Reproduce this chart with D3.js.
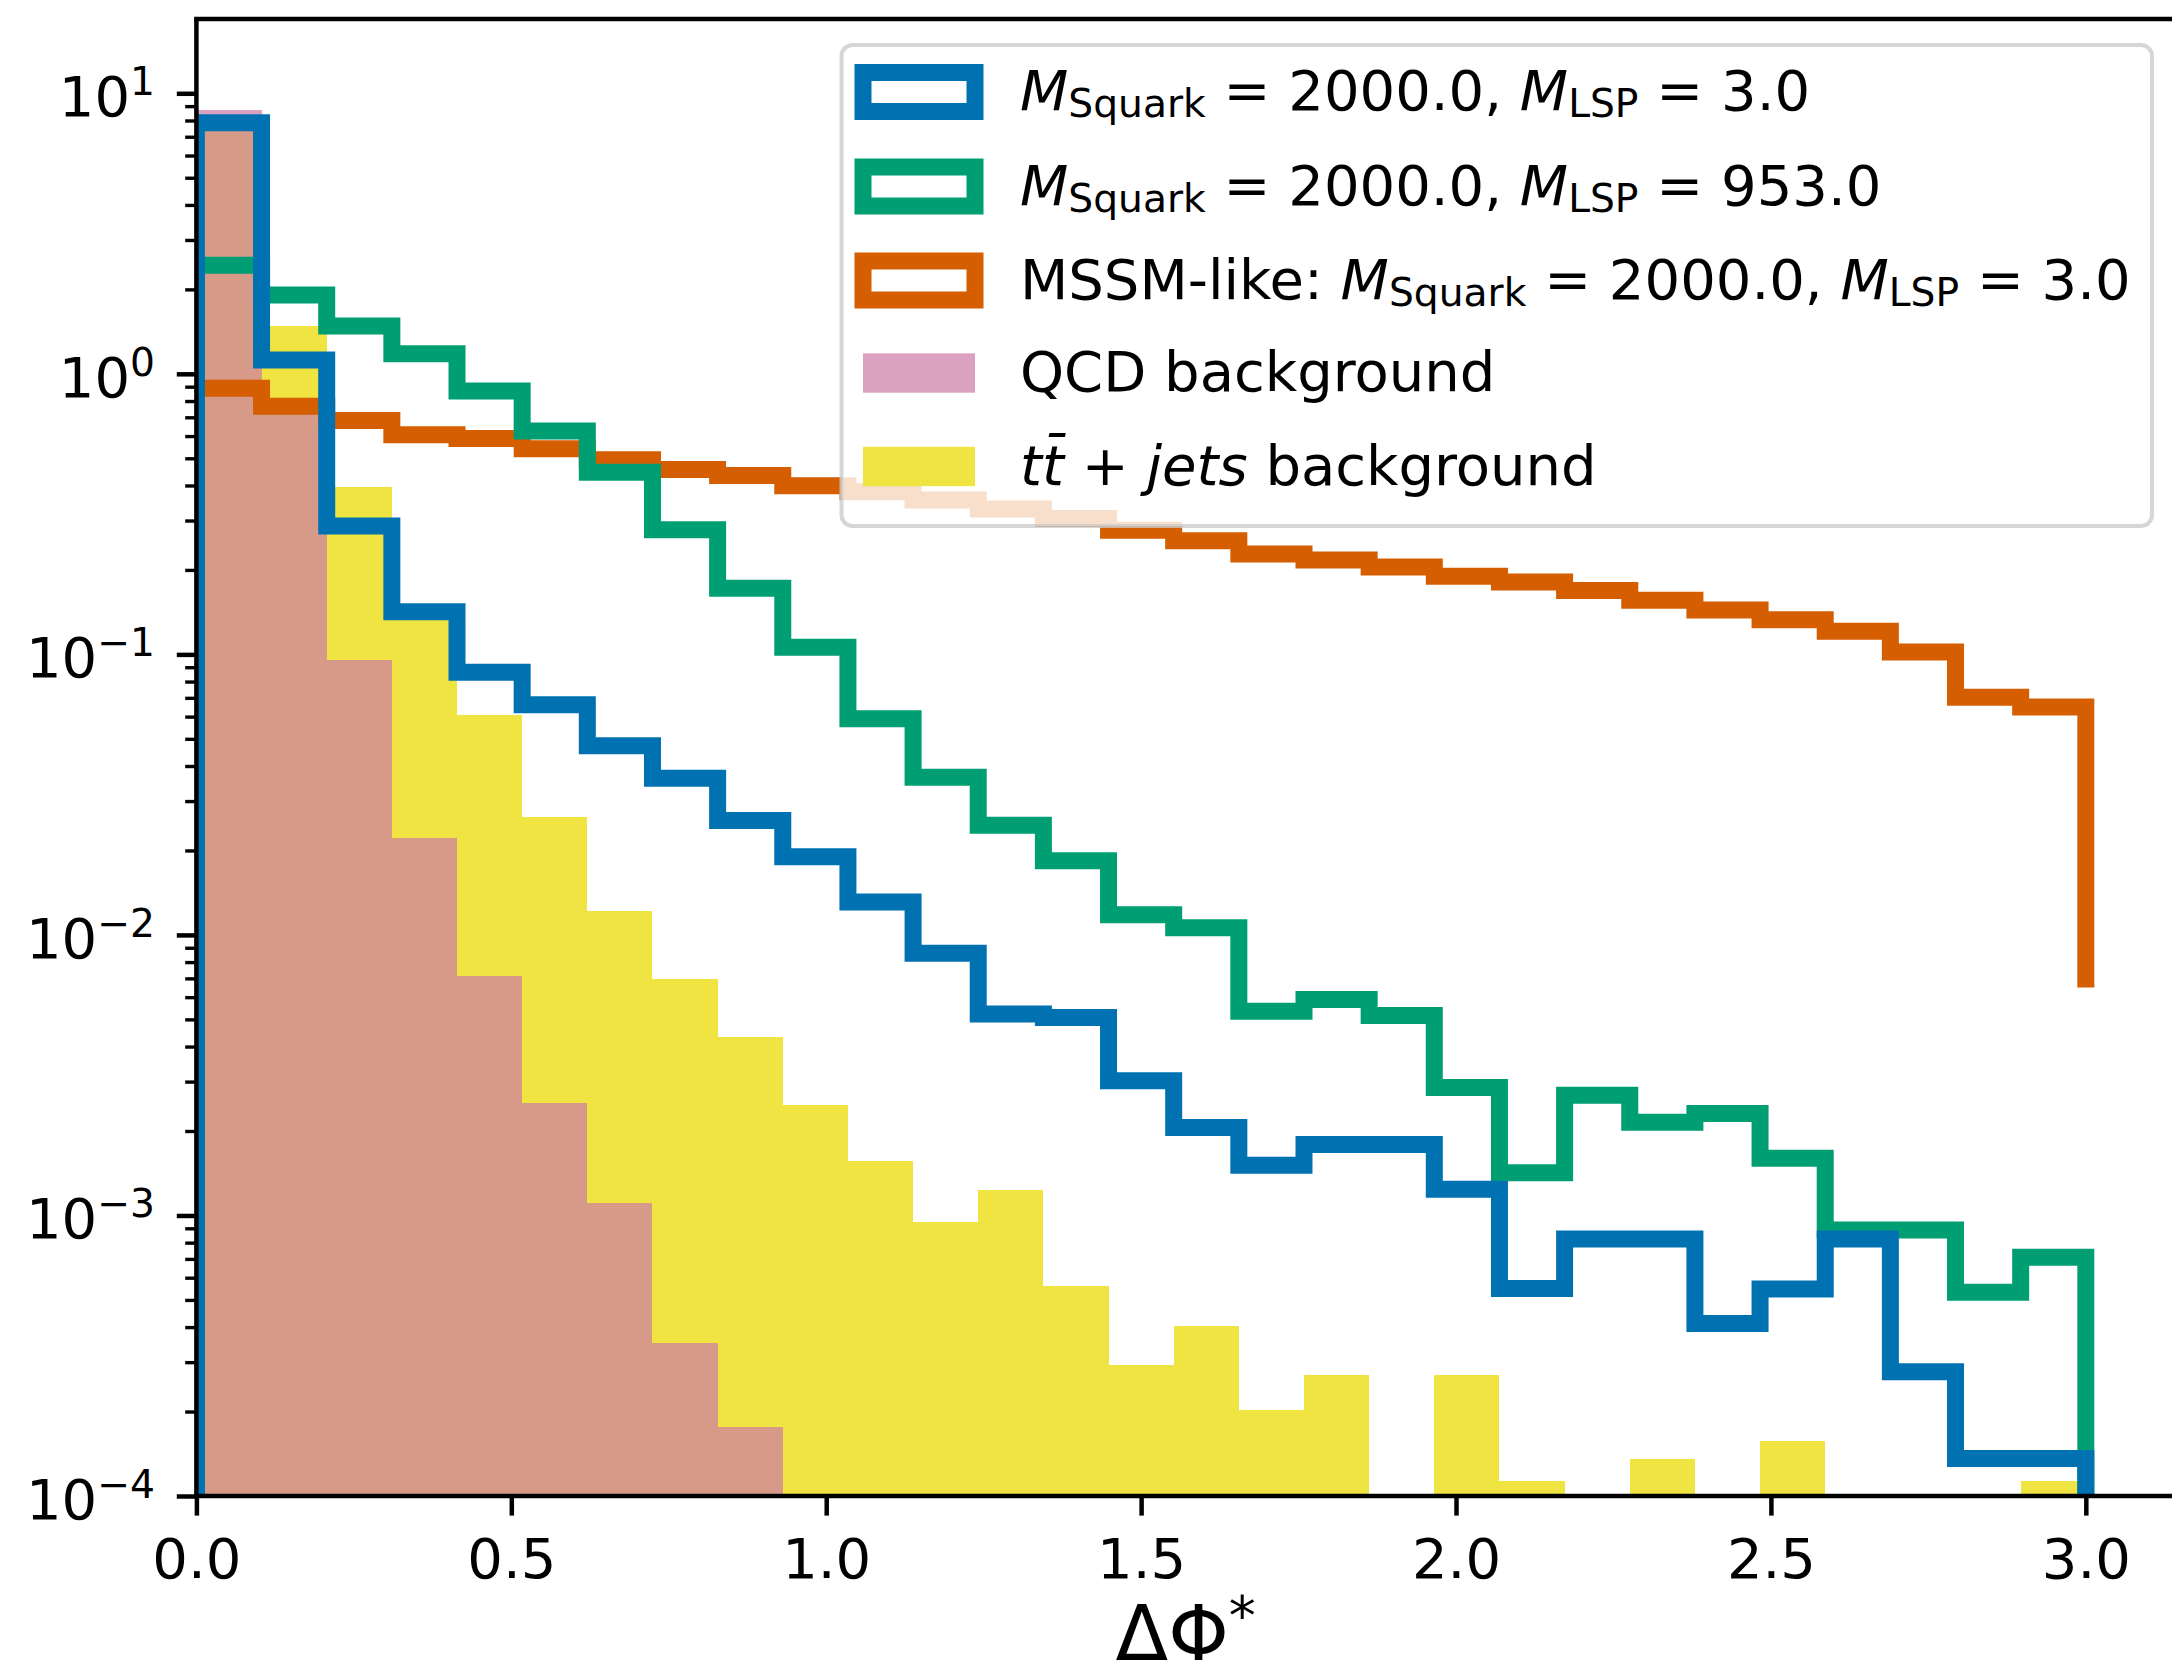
<!DOCTYPE html>
<html>
<head>
<meta charset="utf-8">
<script src="https://cdn.jsdelivr.net/npm/d3@7"></script>
<style>
  body { margin: 0; background: #fff; }
  svg { display: block; }
  text { font-family: "DejaVu Sans", sans-serif; fill: #000; }
</style>
</head>
<body>
<svg id="chart" width="2172" height="1679"></svg>
<script>
// Histogram bin edges in ΔΦ* (29 equal bins from 0 to 3.0)
const binEdges = [0, 0.10345, 0.2069, 0.31034, 0.41379, 0.51724, 0.62069, 0.72414, 0.82759, 0.93103,
  1.03448, 1.13793, 1.24138, 1.34483, 1.44828, 1.55172, 1.65517, 1.75862, 1.86207, 1.96552,
  2.06897, 2.17241, 2.27586, 2.37931, 2.48276, 2.58621, 2.68966, 2.7931, 2.89655, 3.0];

// Normalised bin contents (density)
const sigLsp3 = [7.85, 1.12, 0.287, 0.142, 0.0863, 0.0661, 0.0472, 0.0362, 0.0256, 0.019,
  0.0131, 0.0086, 0.00522, 0.00508, 0.00302, 0.00206, 0.00151, 0.00179, 0.00179, 0.00124,
  0.000549, 0.000824, 0.000824, 0.000412, 0.000547, 0.000824, 0.000277, 0.000136, 0.000136];
const sigLsp953 = [2.44, 1.91, 1.48, 1.18, 0.868, 0.625, 0.446, 0.278, 0.172, 0.106,
  0.059, 0.0365, 0.0246, 0.0184, 0.0118, 0.0106, 0.00535, 0.00589, 0.00516, 0.00286,
  0.00142, 0.00268, 0.00215, 0.00231, 0.0016, 0.000887, 0.000887, 0.000532, 0.00071];
const sigMssm = [0.889, 0.767, 0.682, 0.607, 0.588, 0.541, 0.494, 0.456, 0.434, 0.399,
  0.38, 0.355, 0.33, 0.305, 0.277, 0.254, 0.228, 0.217, 0.205, 0.19,
  0.181, 0.169, 0.156, 0.144, 0.133, 0.121, 0.102, 0.0703, 0.0649];
const qcdBkg = [8.7, 0.77, 0.0955, 0.0221, 0.00714, 0.00252, 0.00111, 0.000352, 0.000176, 0,
  0, 0, 0, 0, 0, 0, 0, 0, 0, 0,
  0, 0, 0, 0, 0, 0, 0, 0, 0];
const ttbarBkg = [7.55, 1.475, 0.396, 0.138, 0.0608, 0.0264, 0.0122, 0.00698, 0.00433, 0.00248,
  0.00156, 0.000945, 0.00123, 0.000562, 0.000294, 0.000404, 0.000202, 0.00027, 0, 0.00027,
  0.000113, 0, 0.000135, 0, 0.000157, 0, 0, 0, 0.000113];

const xTickValues = [0, 0.5, 1.0, 1.5, 2.0, 2.5, 3.0];
const xTickLabels = ["0.0", "0.5", "1.0", "1.5", "2.0", "2.5", "3.0"];
const yTickExponents = [-4, -3, -2, -1, 0, 1];

const colors = {
  lsp3: "#0072B2",
  lsp953: "#009E73",
  mssm: "#D55E00",
  qcd: "#CC79A7",
  ttbar: "#F0E442"
};

// ---- geometry ----
const plot = { left: 196.4, right: 2175, top: 19, bottom: 1496 };
const FS = 56;            // tick / legend font size
const LW = 17;            // step line width
const x = d3.scaleLinear().domain([0, Math.PI]).range([plot.left, plot.right]);
const y = d3.scaleLog().domain([1e-4, 18.4]).range([plot.bottom, plot.top]);

const svg = d3.select("#chart");
svg.append("rect").attr("width", 2172).attr("height", 1679).attr("fill", "#fff");

svg.append("defs").append("clipPath").attr("id", "plotClip")
  .append("rect")
  .attr("x", plot.left).attr("y", plot.top)
  .attr("width", plot.right - plot.left).attr("height", plot.bottom - plot.top);

const area = svg.append("g").attr("clip-path", "url(#plotClip)");

// ---- filled background histograms ----
function drawBars(values, fill, opacity) {
  const bins = values.map((v, i) => ({ v, x0: binEdges[i], x1: binEdges[i + 1] })).filter(d => d.v > 0);
  area.append("g").selectAll("rect").data(bins).join("rect")
    .attr("x", d => x(d.x0))
    .attr("width", d => x(d.x1) - x(d.x0))
    .attr("y", d => y(d.v))
    .attr("height", d => plot.bottom + 10 - y(d.v))
    .attr("fill", fill)
    .attr("fill-opacity", opacity)
    .attr("shape-rendering", "crispEdges");
}
drawBars(ttbarBkg, colors.ttbar, 1);
drawBars(qcdBkg, colors.qcd, 0.7);

// ---- step histograms (open outline, ends dropped to a tenth of the smallest bin) ----
const stepLine = d3.line().x(d => x(d[0])).y(d => y(d[1]));
function drawStep(values, color) {
  const floor = d3.min(values) / 10;
  const pts = [[binEdges[0], floor]];
  values.forEach((v, i) => { pts.push([binEdges[i], v], [binEdges[i + 1], v]); });
  pts.push([binEdges[binEdges.length - 1], floor]);
  area.append("path")
    .attr("d", stepLine(pts))
    .attr("fill", "none")
    .attr("stroke", color)
    .attr("stroke-width", LW)
    .attr("stroke-linejoin", "miter")
    .attr("stroke-linecap", "butt");
}
drawStep(sigMssm, colors.mssm);
drawStep(sigLsp953, colors.lsp953);
drawStep(sigLsp3, colors.lsp3);

// ---- axes ----
const xAxis = d3.axisBottom(x)
  .tickValues(xTickValues)
  .tickFormat((d, i) => xTickLabels[i])
  .tickSizeInner(19.6).tickSizeOuter(0).tickPadding(22.6);
const gx = svg.append("g").attr("transform", `translate(0,${plot.bottom})`).call(xAxis);
gx.select(".domain").remove();
gx.selectAll(".tick line").attr("stroke", "#000").attr("stroke-width", 4.5);
gx.selectAll(".tick text").attr("font-size", FS).attr("font-family", "DejaVu Sans").attr("fill", "#000");

const majorVals = yTickExponents.map(e => Math.pow(10, e));
const minorVals = [];
yTickExponents.forEach(e => {
  for (let m = 2; m <= 9; m++) {
    const v = m * Math.pow(10, e);
    if (v < y.domain()[1]) minorVals.push(v);
  }
});
const gyMinor = svg.append("g").attr("transform", `translate(${plot.left},0)`)
  .call(d3.axisLeft(y).tickValues(minorVals).tickFormat("").tickSizeInner(11.2).tickSizeOuter(0));
gyMinor.select(".domain").remove();
gyMinor.selectAll(".tick line").attr("stroke", "#000").attr("stroke-width", 3.4);

const gyMajor = svg.append("g").attr("transform", `translate(${plot.left},0)`)
  .call(d3.axisLeft(y).tickValues(majorVals).tickFormat("").tickSizeInner(19.6).tickSizeOuter(0));
gyMajor.select(".domain").remove();
gyMajor.selectAll(".tick line").attr("stroke", "#000").attr("stroke-width", 4.5);

// power-of-ten labels
const yLabels = svg.append("g");
yTickExponents.forEach(e => {
  const t = yLabels.append("text")
    .attr("x", 155)
    .attr("y", y(Math.pow(10, e)) + 23)
    .attr("text-anchor", "end")
    .attr("font-size", FS);
  t.append("tspan").text("10");
  t.append("tspan").attr("font-size", FS * 0.7).attr("dy", -21)
    .text(e < 0 ? "\u2212" + Math.abs(e) : String(e));
});

// spines
const spines = svg.append("g").attr("stroke", "#000").attr("stroke-width", 4.5).attr("fill", "none");
spines.append("line").attr("x1", plot.left).attr("x2", plot.left).attr("y1", plot.top).attr("y2", plot.bottom);
spines.append("line").attr("x1", plot.left - 2.25).attr("x2", plot.right).attr("y1", plot.bottom).attr("y2", plot.bottom);
spines.append("line").attr("x1", plot.left - 2.25).attr("x2", plot.right).attr("y1", plot.top).attr("y2", plot.top);
spines.append("line").attr("x1", plot.right).attr("x2", plot.right).attr("y1", plot.top).attr("y2", plot.bottom);

// x label
const xl = svg.append("text")
  .attr("x", (plot.left + plot.right) / 2)
  .attr("y", 1660)
  .attr("text-anchor", "middle")
  .attr("font-size", 77);
xl.append("tspan").text("\u0394\u03A6");
xl.append("tspan").attr("font-size", 77 * 0.7).attr("dy", -26).text("*");

// ---- legend ----
const legendEntries = [
  { kind: "outline", color: colors.lsp3,
    label: [{ t: "M", it: true }, { t: "Squark", sub: true }, { t: " = 2000.0, " }, { t: "M", it: true }, { t: "LSP", sub: true }, { t: " = 3.0" }] },
  { kind: "outline", color: colors.lsp953,
    label: [{ t: "M", it: true }, { t: "Squark", sub: true }, { t: " = 2000.0, " }, { t: "M", it: true }, { t: "LSP", sub: true }, { t: " = 953.0" }] },
  { kind: "outline", color: colors.mssm,
    label: [{ t: "MSSM-like: " }, { t: "M", it: true }, { t: "Squark", sub: true }, { t: " = 2000.0, " }, { t: "M", it: true }, { t: "LSP", sub: true }, { t: " = 3.0" }] },
  { kind: "fill", color: colors.qcd, opacity: 0.7,
    label: [{ t: "QCD background" }] },
  { kind: "fill", color: colors.ttbar, opacity: 1,
    label: [{ t: "t", it: true }, { t: "t\u0304", it: true }, { t: " + " }, { t: "jets", it: true }, { t: " background" }] }
];
const rowCenters = [92, 186.5, 280.5, 373, 466.5];

const legend = svg.append("g");
legend.append("rect")
  .attr("x", 841.5).attr("y", 45).attr("width", 1310.5).attr("height", 481)
  .attr("rx", 11).attr("ry", 11)
  .attr("fill", "#fff").attr("fill-opacity", 0.8)
  .attr("stroke", "#ccc").attr("stroke-opacity", 0.8).attr("stroke-width", 4);

const SUB_SHIFT = 7;
legendEntries.forEach((entry, i) => {
  const cy = rowCenters[i];
  if (entry.kind === "outline") {
    legend.append("rect")
      .attr("x", 863).attr("y", cy - 19.5).attr("width", 112).attr("height", 39)
      .attr("fill", "none").attr("stroke", entry.color).attr("stroke-width", LW)
      .attr("stroke-linejoin", "miter");
  } else {
    legend.append("rect")
      .attr("x", 863).attr("y", cy - 19.7).attr("width", 112).attr("height", 39.4)
      .attr("fill", entry.color).attr("fill-opacity", entry.opacity);
  }
  const txt = legend.append("text").attr("x", 1020).attr("y", cy + 18).attr("font-size", FS);
  let shifted = false;
  entry.label.forEach(seg => {
    const ts = txt.append("tspan").text(seg.t);
    if (seg.it) ts.attr("font-style", "italic");
    if (seg.sub) {
      ts.attr("font-size", FS * 0.7).attr("dy", SUB_SHIFT);
      shifted = true;
    } else if (shifted) {
      ts.attr("dy", -SUB_SHIFT);
      shifted = false;
    }
  });
});
</script>
</body>
</html>
